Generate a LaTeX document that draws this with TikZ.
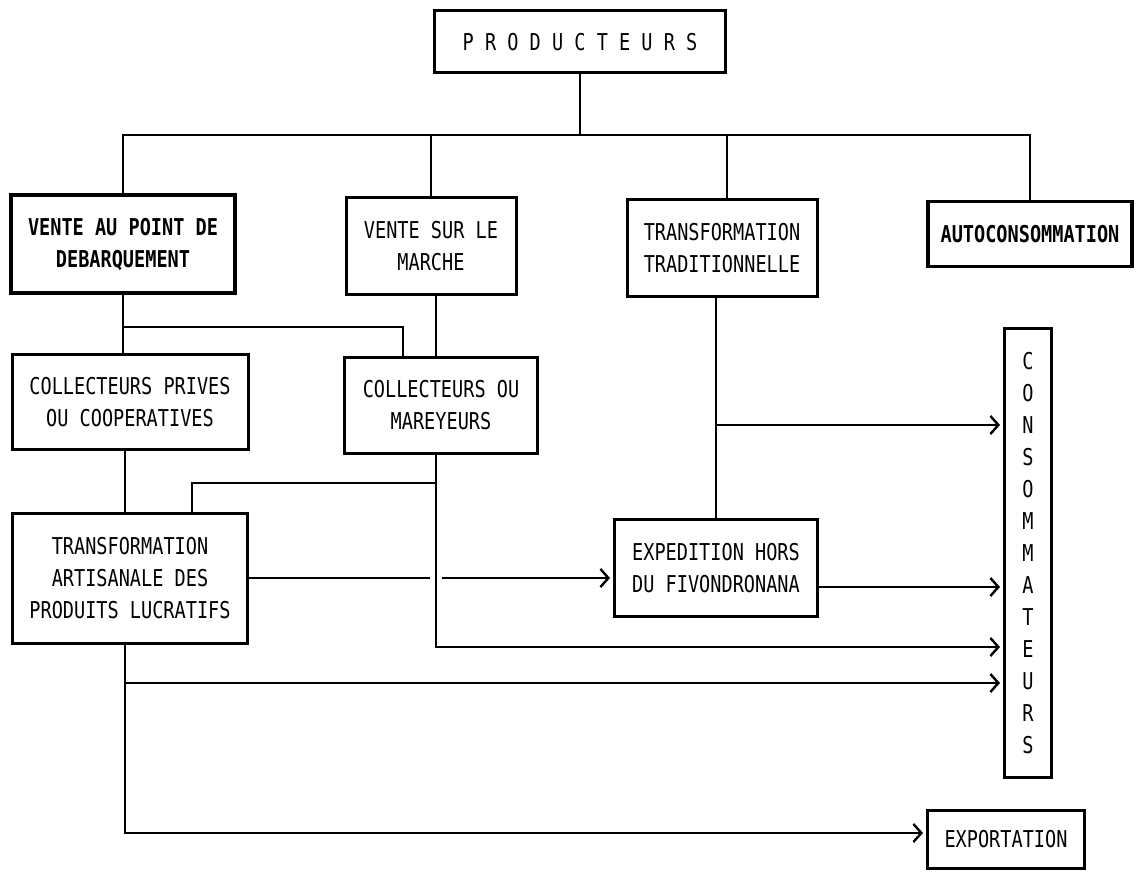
\documentclass[tikz,border=0pt]{standalone}
\usepackage{fontspec}
\newfontfamily\dotfont[FakeStretch=0.8]{DejaVu Sans Mono}
\usetikzlibrary{calc,arrows.meta}

\begin{document}
\begin{tikzpicture}[x=0.5pt, y=-0.5pt,
	box/.style={draw, line width=1.5pt, align=center, inner sep=0pt,
		font=\dotfont\fontsize{11.6}{16}\selectfont},
	heavy/.style={line width=1.9pt, font=\dotfont\bfseries\fontsize{11.6}{16}\selectfont},
	link/.style={line width=1.3pt},
	arr/.style={link, shorten >=1.5pt,
		-{Straight Barb[length=4pt, width=9pt, line width=1.2pt]}}]

	% ---- frame

	\useasboundingbox (0,0) rectangle (1136,872);

	% ---- boxes

	\node[box, minimum width=145.5pt, minimum height=31pt] (prod) at (580,42) {P R O D U C T E U R S};

	\node[box, heavy, minimum width=112pt, minimum height=49pt] (vpd) at (123,244) {VENTE AU POINT DE\\DEBARQUEMENT};
	\node[box, minimum width=85pt, minimum height=48.5pt] (vsm) at (431,246) {VENTE SUR LE\\MARCHE};
	\node[box, minimum width=95pt, minimum height=48pt] (ttr) at (722,248) {TRANSFORMATION\\TRADITIONNELLE};
	\node[box, heavy, minimum width=102pt, minimum height=32.5pt] (auto) at (1030,234) {AUTOCONSOMMATION};

	\node[box, minimum width=118pt, minimum height=47.5pt] (cpc) at (130,402) {COLLECTEURS PRIVES\\OU COOPERATIVES};
	\node[box, minimum width=96.5pt, minimum height=48pt] (cmr) at (441,405) {COLLECTEURS OU\\MAREYEURS};

	\node[box, minimum width=117.5pt, minimum height=65pt] (tap) at (130,578) {TRANSFORMATION\\ARTISANALE DES\\PRODUITS LUCRATIFS};
	\node[box, minimum width=101.5pt, minimum height=48.5pt] (exp) at (716,568) {EXPEDITION HORS\\DU FIVONDRONANA};

	\node[box, minimum width=23.5pt, minimum height=224.5pt] (cons) at (1028,553) {C\\O\\N\\S\\O\\M\\M\\A\\T\\E\\U\\R\\S};
	\node[box, minimum width=78.5pt, minimum height=29pt] (export) at (1006,839) {EXPORTATION};

	% ---- coordinates

	\coordinate (bus) at (580,135);
	\coordinate (j1) at ($(vpd.south)+(0,32)$);
	\coordinate (mt) at ($(vsm.south)+(5,0)$);
	\coordinate (mk) at (mt |- cmr.south);
	\coordinate (tt) at ($(ttr.north)+(5,0)$);
	\coordinate (ts) at ($(tap.south)+(-5,0)$);

	\coordinate (c1) at (cons.west |- 0,425);
	\coordinate (c2) at (cons.west |- 0,587);
	\coordinate (c3) at (cons.west |- 0,647);
	\coordinate (c4) at (cons.west |- 0,683);

	% ---- first level

	\draw[link] (prod) -- (bus);
	\draw[link] (vpd.north) |- (bus) -| (auto.north);
	\draw[link] (vsm) -- (vsm |- bus);
	\draw[link] (tt) -- (tt |- bus);

	% ---- collectors

	\draw[link] (vpd.south) -- (vpd.south |- cpc.north);
	\draw[link] (j1) -| ($(cmr.north)+(-38,0)$);
	\draw[link] (mt) -- (mt |- cmr.north);
	\draw[link] (cpc.south -| ts) -- (ts |- tap.north);

	% ---- flows to the right

	\draw[link] (mk |- 0,483) -| ($(tap.north)+(62,0)$);
	\draw[arr] (mk) |- (c3);

	\draw[link] (tap.east) -- ($(mk |- tap.east)+(-6,0)$);
	\draw[arr] ($(mk |- tap.east)+(6,0)$) -- (exp.west |- tap.east);

	\draw[link] (exp.north |- ttr.south) -- (exp.north);
	\draw[arr] (exp.north |- c1) -- (c1);
	\draw[arr] (exp.east |- c2) -- (c2);

	\draw[arr] (ts) |- (export.west |- 0,833);
	\draw[arr] (ts |- c4) -- (c4);

\end{tikzpicture}
\end{document}
